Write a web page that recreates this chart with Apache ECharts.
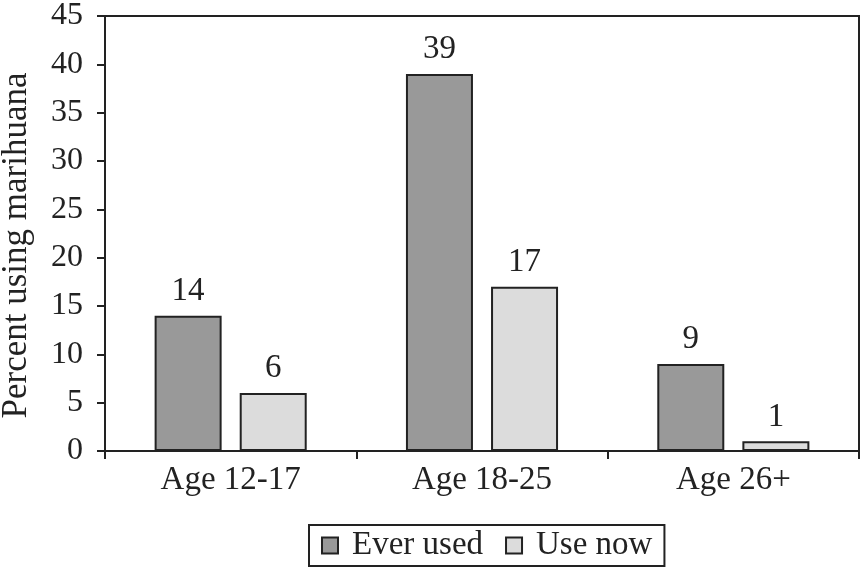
<!DOCTYPE html>
<html><head><meta charset="utf-8">
<script src="https://cdn.jsdelivr.net/npm/echarts@6/dist/echarts.min.js"></script>
<style>html,body{margin:0;padding:0;background:#fff}#c{width:863px;height:570px}</style>
</head><body><div id="c"></div>
<script>
const categories = ['Age 12-17', 'Age 18-25', 'Age 26+'];
const everUsed = [14, 39, 9];
const useNow = [6, 17, 1];
const seriesNames = ['Ever used', 'Use now'];
const yTicks = [0, 5, 10, 15, 20, 25, 30, 35, 40, 45];

const font = '"Liberation Serif", "Times New Roman", serif';
const chart = echarts.init(document.getElementById('c'), null, {renderer: 'canvas'});
const labelStyle = {show: true, position: 'top', distance: 8, color: '#222', fontFamily: font, fontSize: 33};
chart.setOption({
  animation: false,
  backgroundColor: '#fff',
  textStyle: {fontFamily: font},
  grid: {left: 105, right: 4, top: 16, bottom: 119, show: true, borderColor: '#222', borderWidth: 2,
         backgroundColor: 'transparent', containLabel: false, outerBoundsMode: 'none'},
  legend: {
    bottom: 4, left: 309, padding: [4, 12, 4, 12],
    borderColor: '#222', borderWidth: 2,
    itemWidth: 16, itemHeight: 16, itemGap: 22,
    textStyle: {fontFamily: font, fontSize: 33, color: '#222', padding: [0, 0, 0, 9]},
    data: seriesNames, icon: 'rect'
  },
  xAxis: {
    type: 'category', data: categories,
    axisLine: {lineStyle: {color: '#222', width: 2}},
    axisTick: {show: true, length: 8, lineStyle: {color: '#222', width: 2}},
    axisLabel: {color: '#222', fontFamily: font, fontSize: 33, margin: 13}
  },
  yAxis: {
    type: 'value', min: yTicks[0], max: yTicks[yTicks.length - 1], interval: 5,
    name: 'Percent using marihuana', nameLocation: 'middle', nameGap: 71, nameRotate: 90,
    nameTextStyle: {color: '#222', fontFamily: font, fontSize: 35, padding: [0, 24, 0, 0]},
    axisLine: {show: true, lineStyle: {color: '#222', width: 2}},
    axisTick: {show: true, length: 8, lineStyle: {color: '#222', width: 2}},
    axisLabel: {color: '#222', fontFamily: font, fontSize: 32, margin: 22},
    splitLine: {show: false}
  },
  series: [
    {name: seriesNames[0], type: 'bar', data: everUsed, barWidth: 67, barGap: '27%',
     itemStyle: {color: '#999999', borderColor: '#222', borderWidth: 2}, label: labelStyle},
    {name: seriesNames[1], type: 'bar', data: useNow, barWidth: 67,
     itemStyle: {color: '#dcdcdc', borderColor: '#222', borderWidth: 2}, label: labelStyle}
  ]
});
</script></body></html>
